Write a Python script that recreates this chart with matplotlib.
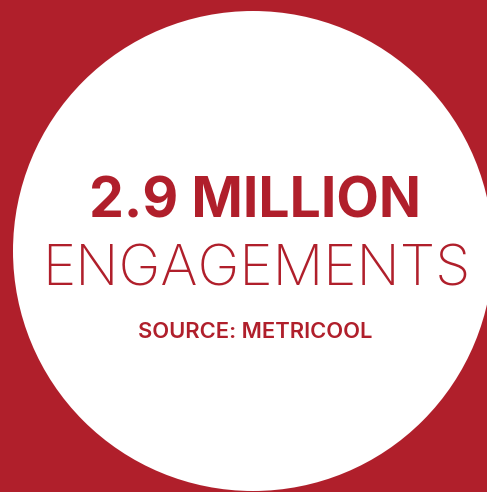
import matplotlib
matplotlib.use("Agg")
import matplotlib.pyplot as plt
from matplotlib.patches import Circle

# Data
headline_value = ["2.9 MILLION"]
headline_label = ["ENGAGEMENTS"]
source_text = ["SOURCE: METRICOOL"]

RED = "#B01F2B"
W, H = 487, 492

fig = plt.figure(figsize=(W / 100, H / 100), dpi=100)
fig.patch.set_facecolor(RED)
ax = fig.add_axes([0, 0, 1, 1])
ax.set_xlim(0, W)
ax.set_ylim(H, 0)
ax.set_aspect("equal")
ax.axis("off")
ax.set_facecolor(RED)

ax.add_patch(Circle((253, 251), 240, facecolor="white", edgecolor="none"))

fam = ["Inter", "Roboto", "DejaVu Sans"]
ax.text(255, 218, headline_value[0], ha="center", va="baseline", color=RED,
        fontsize=39.8, fontweight="bold", family=fam)
ax.text(256, 286, headline_label[0], ha="center", va="baseline", color=RED,
        fontsize=40.7, fontweight="light", family=fam)
ax.text(255, 338, source_text[0], ha="center", va="baseline", color=RED,
        fontsize=15.8, fontweight="semibold", family=fam)

fig.savefig("out.png", dpi=100, facecolor=RED)
